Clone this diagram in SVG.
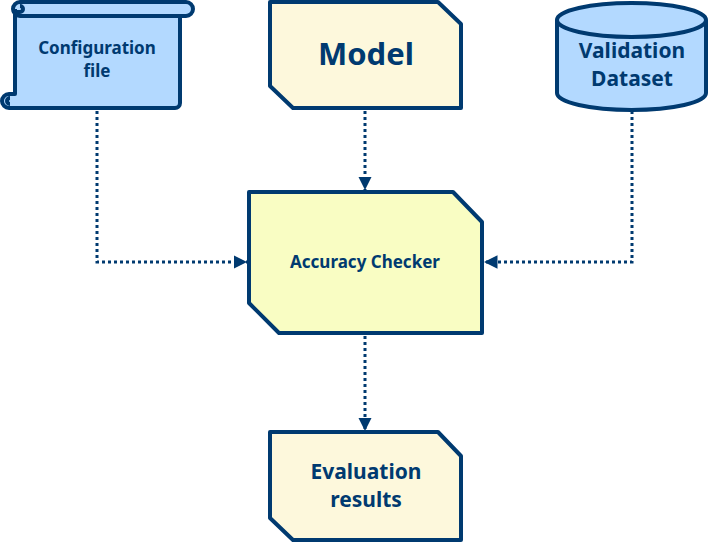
<svg xmlns="http://www.w3.org/2000/svg" width="708" height="543" viewBox="0 0 708 543">
<defs>
<style>
.s{stroke:#003A70;stroke-width:4;stroke-linejoin:round}
.blue{fill:#B3D9FF}
.cream{fill:#FDF8DC}
.lime{fill:#F9FDC3}
.t{font-family:"Noto Sans","Open Sans",sans-serif;font-weight:bold;fill:#003A70;text-anchor:middle}
.c{fill:none;stroke:#003A70;stroke-width:3;stroke-dasharray:3 3}
</style>
<marker id="ah" viewBox="0 0 10 10" refX="10" refY="5" markerWidth="4.5" markerHeight="4.5" markerUnits="strokeWidth" orient="auto">
<path d="M0 0 L10 5 L0 10 Z" fill="#003A70"/>
</marker>
</defs>
<g id="connectors">
<path class="c" d="M97 111 V262 H247" marker-end="url(#ah)"/>
<path class="c" d="M365 111 V190" marker-end="url(#ah)"/>
<path class="c" d="M632 111 V262 H484" marker-end="url(#ah)"/>
<path class="c" d="M365 336 V431" marker-end="url(#ah)"/>
</g>
<g id="config">
<path class="s blue" d="M15 9 H180 V103 A5 5 0 0 1 175 108 H9 A7 7 0 0 1 9 94 H15 Z"/>
<path class="s" fill="none" d="M10 98 A3 3 0 0 0 10 104"/>
<path class="s blue" d="M20 2 H186 A7 7 0 0 1 186 16 H20 A7 7 0 0 1 20 2 Z"/>
<path class="s" fill="none" d="M15 9 V16 M20 6 A3 3 0 0 1 20 12 H15"/>
<text class="t" x="97" y="54" font-size="17">Configuration</text>
<text class="t" x="97" y="77" font-size="17">file</text>
</g>
<g id="model">
<path class="s cream" d="M270 2 H438 L461 24 V108 H293 L270 86 Z"/>
<text class="t" x="366" y="65" font-size="31">Model</text>
</g>
<g id="dataset">
<path class="s blue" d="M557 20 V93 A74.5 17 0 0 0 706 93 V20"/>
<ellipse class="s blue" cx="631.5" cy="20" rx="74.5" ry="17"/>
<text class="t" x="632" y="58" font-size="21">Validation</text>
<text class="t" x="632" y="86" font-size="21">Dataset</text>
</g>
<g id="checker">
<path class="s lime" d="M249 192 H453 L482 222 V333 H279 L249 303 Z"/>
<text class="t" x="365" y="268" font-size="17">Accuracy Checker</text>
</g>
<g id="results">
<path class="s cream" d="M270 432 H438 L461 456 V540 H293 L270 518 Z"/>
<text class="t" x="366" y="479" font-size="21">Evaluation</text>
<text class="t" x="366" y="507" font-size="21">results</text>
</g>
</svg>
